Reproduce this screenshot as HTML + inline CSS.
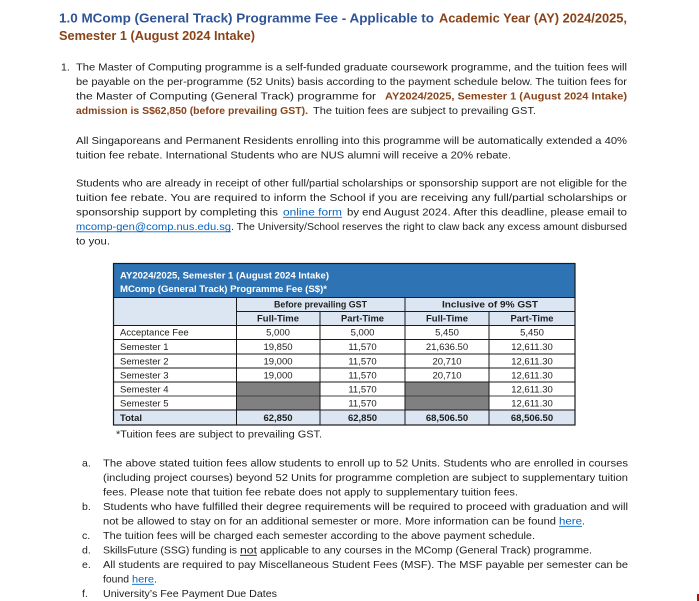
<!DOCTYPE html>
<html>
<head>
<meta charset="utf-8">
<style>
html,body{margin:0;padding:0;background:#fff;}
svg{display:block;}
</style>
</head>
<body>
<svg xmlns="http://www.w3.org/2000/svg" width="699" height="601" viewBox="0 0 699 601" font-family="'Liberation Sans', Arial, sans-serif">
<rect x="0" y="0" width="699" height="601" fill="#ffffff"/>

<!-- Title -->
<g font-size="12.5" font-weight="bold">
<text x="59" y="22.5" fill="#2f5496" textLength="375" lengthAdjust="spacingAndGlyphs">1.0 MComp (General Track) Programme Fee - Applicable to</text>
<text x="439" y="22.5" fill="#8a4318" textLength="188" lengthAdjust="spacingAndGlyphs">Academic Year (AY) 2024/2025,</text>
<text x="59" y="40" fill="#8a4318" textLength="196" lengthAdjust="spacingAndGlyphs">Semester 1 (August 2024 Intake)</text>
</g>

<!-- Paragraph 1 -->
<g font-size="10.5" fill="#1e1e1e">
<text x="61" y="70.5">1.</text>
<text x="76" y="70.5" textLength="551" lengthAdjust="spacingAndGlyphs">The Master of Computing programme is a self-funded graduate coursework programme, and the tuition fees will</text>
<text x="76" y="85" textLength="551" lengthAdjust="spacingAndGlyphs">be payable on the per-programme (52 Units) basis according to the payment schedule below. The tuition fees for</text>
<text x="76" y="99.5" textLength="300" lengthAdjust="spacingAndGlyphs">the Master of Computing (General Track) programme for</text>
<text x="385" y="99.5" textLength="242" lengthAdjust="spacingAndGlyphs" font-weight="bold" fill="#8a4318">AY2024/2025, Semester 1 (August 2024 Intake)</text>
<text x="76" y="114" textLength="232" lengthAdjust="spacingAndGlyphs" font-weight="bold" fill="#8a4318">admission is S$62,850 (before prevailing GST).</text>
<text x="313" y="114" textLength="223" lengthAdjust="spacingAndGlyphs">The tuition fees are subject to prevailing GST.</text>

<text x="76" y="144" textLength="551" lengthAdjust="spacingAndGlyphs">All Singaporeans and Permanent Residents enrolling into this programme will be automatically extended a 40%</text>
<text x="76" y="158.5" textLength="435" lengthAdjust="spacingAndGlyphs">tuition fee rebate. International Students who are NUS alumni will receive a 20% rebate.</text>

<text x="76" y="186.5" textLength="551" lengthAdjust="spacingAndGlyphs">Students who are already in receipt of other full/partial scholarships or sponsorship support are not eligible for the</text>
<text x="76" y="201" textLength="551" lengthAdjust="spacingAndGlyphs">tuition fee rebate. You are required to inform the School if you are receiving any full/partial scholarships or</text>
<text x="76" y="215.5" textLength="202" lengthAdjust="spacingAndGlyphs">sponsorship support by completing this</text>
<text x="283" y="215.5" textLength="59" lengthAdjust="spacingAndGlyphs" fill="#0563c1">online form</text>
<text x="347" y="215.5" textLength="280" lengthAdjust="spacingAndGlyphs">by end August 2024. After this deadline, please email to</text>
<text x="76" y="230" textLength="155" lengthAdjust="spacingAndGlyphs" fill="#0563c1">mcomp-gen@comp.nus.edu.sg</text>
<text x="231" y="230" textLength="396" lengthAdjust="spacingAndGlyphs">. The University/School reserves the right to claw back any excess amount disbursed</text>
<text x="76" y="244.5" textLength="34" lengthAdjust="spacingAndGlyphs">to you.</text>
</g>
<g stroke="#0563c1" stroke-width="0.8">
<line x1="283" y1="217.3" x2="342" y2="217.3"/>
<line x1="76" y1="231.8" x2="231" y2="231.8"/>
</g>

<!-- Table -->
<rect x="113" y="263" width="462" height="34" fill="#2e74b5"/>
<rect x="113" y="297" width="462" height="28" fill="#dce6f2"/>
<rect x="113" y="410" width="462" height="15" fill="#dce6f2"/>
<rect x="236" y="382" width="84" height="28" fill="#808080"/>
<rect x="405" y="382" width="84" height="28" fill="#808080"/>
<g stroke="#1a1a1a" stroke-width="1" fill="none">
<line x1="113" y1="297.5" x2="575" y2="297.5"/>
<line x1="236" y1="311.5" x2="575" y2="311.5"/>
<line x1="113" y1="325.5" x2="575" y2="325.5"/>
<line x1="113" y1="339.5" x2="575" y2="339.5"/>
<line x1="113" y1="354" x2="575" y2="354"/>
<line x1="113" y1="368" x2="575" y2="368"/>
<line x1="113" y1="382" x2="575" y2="382"/>
<line x1="113" y1="396" x2="575" y2="396" stroke="#444"/>
<line x1="113" y1="410" x2="575" y2="410"/>
<line x1="236.5" y1="297" x2="236.5" y2="425"/>
<line x1="405" y1="297" x2="405" y2="425"/>
<line x1="320" y1="311" x2="320" y2="425"/>
<line x1="489" y1="311" x2="489" y2="425"/>
<rect x="113.5" y="263.5" width="461.5" height="161.5" stroke-width="1.2"/>
</g>

<g font-size="9.5" font-weight="bold" fill="#ffffff">
<text x="120" y="278.5" textLength="209" lengthAdjust="spacingAndGlyphs">AY2024/2025, Semester 1 (August 2024 Intake)</text>
<text x="120" y="292" textLength="207" lengthAdjust="spacingAndGlyphs">MComp (General Track) Programme Fee (S$)*</text>
</g>
<g font-size="9.5" font-weight="bold" fill="#1e1e1e">
<text x="274" y="307.5" textLength="93" lengthAdjust="spacingAndGlyphs">Before prevailing GST</text>
<text x="442" y="307.5" textLength="96" lengthAdjust="spacingAndGlyphs">Inclusive of 9% GST</text>
<text x="257" y="321.5" textLength="42" lengthAdjust="spacingAndGlyphs">Full-Time</text>
<text x="341" y="321.5" textLength="43" lengthAdjust="spacingAndGlyphs">Part-Time</text>
<text x="426" y="321.5" textLength="42" lengthAdjust="spacingAndGlyphs">Full-Time</text>
<text x="510.5" y="321.5" textLength="43" lengthAdjust="spacingAndGlyphs">Part-Time</text>
</g>

<g font-size="9.5" fill="#1e1e1e">
<text x="120" y="335.5">Acceptance Fee</text>
<text x="120" y="350">Semester 1</text>
<text x="120" y="364.5">Semester 2</text>
<text x="120" y="378.5">Semester 3</text>
<text x="120" y="392.5">Semester 4</text>
<text x="120" y="406.5">Semester 5</text>
<text x="120" y="421" font-weight="bold">Total</text>
</g>
<g font-size="9.5" fill="#1e1e1e" text-anchor="middle">
<text x="278" y="335.5">5,000</text>
<text x="362.5" y="335.5">5,000</text>
<text x="447" y="335.5">5,450</text>
<text x="532" y="335.5">5,450</text>

<text x="278" y="350">19,850</text>
<text x="362.5" y="350">11,570</text>
<text x="447" y="350">21,636.50</text>
<text x="532" y="350">12,611.30</text>

<text x="278" y="364.5">19,000</text>
<text x="362.5" y="364.5">11,570</text>
<text x="447" y="364.5">20,710</text>
<text x="532" y="364.5">12,611.30</text>

<text x="278" y="378.5">19,000</text>
<text x="362.5" y="378.5">11,570</text>
<text x="447" y="378.5">20,710</text>
<text x="532" y="378.5">12,611.30</text>

<text x="362.5" y="392.5">11,570</text>
<text x="532" y="392.5">12,611.30</text>

<text x="362.5" y="406.5">11,570</text>
<text x="532" y="406.5">12,611.30</text>

<g font-weight="bold">
<text x="278" y="421">62,850</text>
<text x="362.5" y="421">62,850</text>
<text x="447" y="421">68,506.50</text>
<text x="532" y="421">68,506.50</text>
</g>
</g>

<text x="116" y="437.5" font-size="10" fill="#1e1e1e" textLength="206" lengthAdjust="spacingAndGlyphs">*Tuition fees are subject to prevailing GST.</text>

<!-- Sub list -->
<g font-size="10.5" fill="#1e1e1e">
<text x="82" y="466.5">a.</text>
<text x="103" y="466.5" textLength="525" lengthAdjust="spacingAndGlyphs">The above stated tuition fees allow students to enroll up to 52 Units. Students who are enrolled in courses</text>
<text x="103" y="481" textLength="525" lengthAdjust="spacingAndGlyphs">(including project courses) beyond 52 Units for programme completion are subject to supplementary tuition</text>
<text x="103" y="495.5" textLength="415" lengthAdjust="spacingAndGlyphs">fees. Please note that tuition fee rebate does not apply to supplementary tuition fees.</text>
<text x="82" y="510">b.</text>
<text x="103" y="510" textLength="525" lengthAdjust="spacingAndGlyphs">Students who have fulfilled their degree requirements will be required to proceed with graduation and will</text>
<text x="103" y="524.5" textLength="453" lengthAdjust="spacingAndGlyphs">not be allowed to stay on for an additional semester or more. More information can be found</text>
<text x="559" y="524.5" textLength="23" lengthAdjust="spacingAndGlyphs" fill="#0563c1">here</text>
<text x="582" y="524.5">.</text>
<text x="82" y="539">c.</text>
<text x="103" y="539" textLength="432" lengthAdjust="spacingAndGlyphs">The tuition fees will be charged each semester according to the above payment schedule.</text>
<text x="82" y="553.5">d.</text>
<text x="103" y="553.5" textLength="134" lengthAdjust="spacingAndGlyphs">SkillsFuture (SSG) funding is</text>
<text x="240" y="553.5" textLength="17" lengthAdjust="spacingAndGlyphs">not</text>
<text x="260" y="553.5" textLength="332" lengthAdjust="spacingAndGlyphs">applicable to any courses in the MComp (General Track) programme.</text>
<text x="82" y="568">e.</text>
<text x="103" y="568" textLength="525" lengthAdjust="spacingAndGlyphs">All students are required to pay Miscellaneous Student Fees (MSF). The MSF payable per semester can be</text>
<text x="103" y="582.5" textLength="26" lengthAdjust="spacingAndGlyphs">found</text>
<text x="132" y="582.5" textLength="22" lengthAdjust="spacingAndGlyphs" fill="#0563c1">here</text>
<text x="154" y="582.5">.</text>
<text x="82" y="597">f.</text>
<text x="103" y="597" textLength="174" lengthAdjust="spacingAndGlyphs">University’s Fee Payment Due Dates</text>
</g>
<g stroke-width="0.8">
<line x1="559" y1="526.3" x2="582" y2="526.3" stroke="#0563c1"/>
<line x1="240" y1="555.3" x2="257" y2="555.3" stroke="#1e1e1e"/>
<line x1="132" y1="584.3" x2="154" y2="584.3" stroke="#0563c1"/>
</g>

<!-- small red mark bottom right -->
<rect x="697" y="594" width="2" height="7" fill="#b01010"/>
</svg>
</body>
</html>
